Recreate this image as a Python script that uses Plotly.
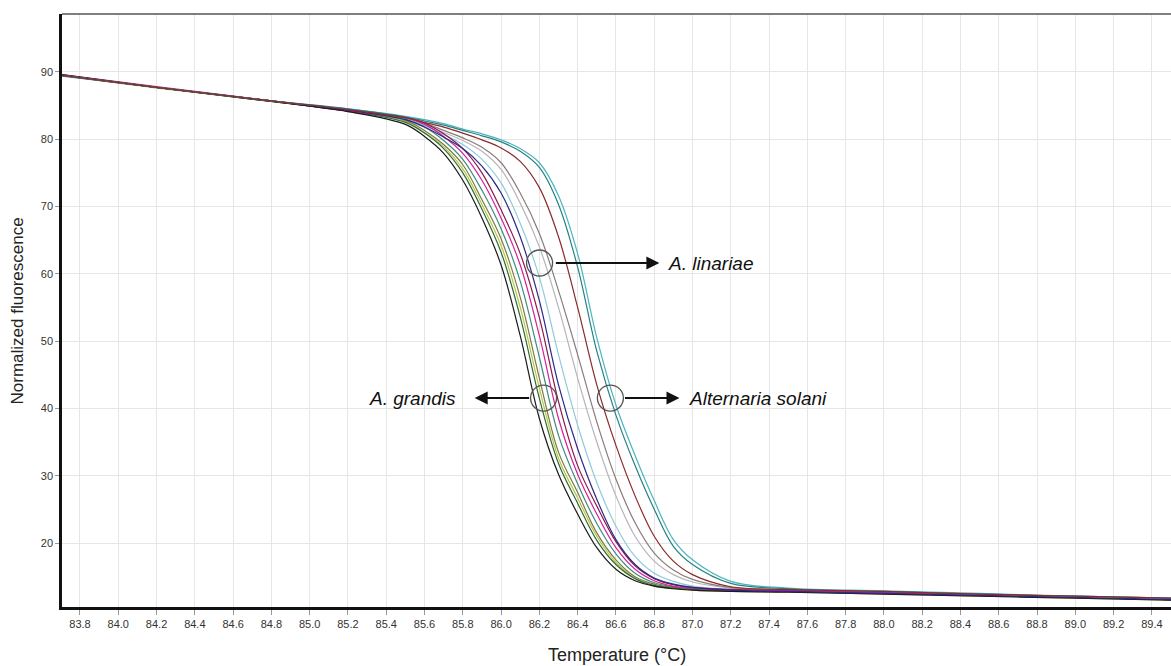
import plotly.graph_objects as go

# Temperature grid (°C)
temps = [83.7, 84.2, 84.8, 85.2, 85.5, 85.6, 85.7, 85.8, 85.9, 86.0, 86.1, 86.2, 86.3,
         86.4, 86.5, 86.6, 86.7, 86.8, 86.9, 87.0, 87.2, 87.5, 88.0, 88.5, 89.0, 89.5]

# A. grandis group
grandis_1 = [89.6, 87.7, 85.6, 84.1, 82.2, 80.4, 77.9, 73.9, 68.3, 61.3, 50.8, 38.5, 30.2,
             24.3, 19.3, 16.1, 14.4, 13.6, 13.2, 13.0, 12.8, 12.7, 12.4, 12.1, 11.8, 11.5]
grandis_2 = [89.5, 87.7, 85.6, 84.2, 82.5, 80.9, 78.6, 75.0, 69.6, 63.2, 53.6, 41.5, 31.8,
             25.9, 20.4, 16.8, 14.7, 13.7, 13.3, 13.1, 12.9, 12.8, 12.5, 12.2, 11.9, 11.6]
grandis_3 = [89.5, 87.7, 85.7, 84.2, 82.8, 81.3, 79.2, 76.2, 71.0, 65.2, 56.5, 44.5, 33.5,
             27.5, 21.5, 17.5, 15.0, 13.9, 13.4, 13.2, 12.9, 12.8, 12.5, 12.2, 11.9, 11.6]
grandis_4 = [89.4, 87.7, 85.7, 84.2, 83.0, 81.8, 79.8, 77.0, 72.4, 66.7, 58.9, 47.6, 36.0,
             28.8, 22.9, 18.4, 15.5, 14.1, 13.5, 13.25, 13.0, 12.8, 12.5, 12.2, 11.9, 11.6]
grandis_5 = [89.6, 87.8, 85.7, 84.2, 83.2, 82.2, 80.4, 77.9, 73.9, 68.3, 61.3, 50.8, 38.5,
             30.2, 24.3, 19.3, 16.1, 14.4, 13.6, 13.3, 13.0, 12.9, 12.6, 12.3, 12.0, 11.7]
grandis_6 = [89.5, 87.7, 85.7, 84.2, 83.3, 82.4, 80.8, 78.6, 75.0, 69.5, 63.0, 53.5, 41.0,
             31.5, 25.5, 20.2, 16.6, 14.7, 13.8, 13.4, 13.1, 12.9, 12.6, 12.3, 12.0, 11.7]
grandis_7 = [89.5, 87.6, 85.6, 84.1, 82.6, 81.0, 78.9, 75.6, 70.3, 64.2, 55.0, 43.0, 32.6,
             26.7, 21.0, 17.1, 14.8, 13.6, 13.2, 13.0, 12.8, 12.7, 12.4, 12.1, 11.8, 11.5]

# A. linariae group
linariae_1 = [89.5, 87.7, 85.7, 84.3, 82.9, 81.8, 80.3, 78.6, 76.0, 72.0, 65.5, 56.0, 43.5,
              34.0, 26.5, 20.5, 16.8, 14.8, 13.9, 13.4, 13.0, 12.8, 12.5, 12.2, 11.9, 11.6]
linariae_2 = [89.5, 87.7, 85.7, 84.3, 83.0, 82.0, 80.7, 79.2, 77.0, 73.5, 67.5, 59.5, 48.0,
              37.5, 29.0, 22.5, 18.0, 15.5, 14.3, 13.6, 13.1, 12.9, 12.6, 12.3, 12.0, 11.7]
linariae_3 = [89.5, 87.7, 85.7, 84.3, 83.1, 82.2, 81.0, 79.8, 78.2, 75.5, 70.5, 64.0, 55.0,
              44.5, 35.0, 27.0, 21.0, 17.3, 15.3, 14.2, 13.3, 13.0, 12.6, 12.3, 12.0, 11.7]
linariae_4 = [89.5, 87.7, 85.7, 84.3, 83.2, 82.4, 81.3, 80.2, 78.8, 76.5, 72.0, 66.0, 57.5,
              48.0, 38.0, 29.5, 23.0, 18.5, 16.0, 14.6, 13.4, 13.0, 12.7, 12.3, 12.0, 11.7]

# Alternaria solani group
solani_1 = [89.5, 87.7, 85.7, 84.4, 83.2, 82.5, 81.8, 80.9, 79.9, 78.7, 76.7, 72.8, 65.5,
            55.0, 43.5, 34.5, 27.0, 21.0, 17.3, 15.3, 13.5, 13.1, 12.8, 12.4, 12.1, 11.8]
solani_2 = [89.5, 87.7, 85.7, 84.5, 83.3, 82.7, 82.1, 81.3, 80.5, 79.6, 78.2, 75.8, 70.3,
            61.0, 48.5, 39.0, 31.5, 25.0, 19.5, 16.8, 14.0, 13.2, 12.8, 12.4, 12.1, 11.8]
solani_3 = [89.5, 87.7, 85.7, 84.5, 83.4, 82.9, 82.3, 81.5, 80.8, 79.9, 78.6, 76.5, 71.6,
            63.0, 50.5, 40.5, 33.0, 26.3, 20.5, 17.5, 14.3, 13.3, 12.9, 12.5, 12.1, 11.8]

series = [
    ("linariae_3", linariae_3, "#b4b4bc"),
    ("linariae_2", linariae_2, "#8fcbdb"),
    ("linariae_4", linariae_4, "#8a7c78"),
    ("grandis_7", grandis_7, "#b8c840"),
    ("grandis_4", grandis_4, "#3c8c7c"),
    ("grandis_3", grandis_3, "#7a7a48"),
    ("grandis_2", grandis_2, "#2e6b3a"),
    ("grandis_6", grandis_6, "#8b1a4a"),
    ("grandis_5", grandis_5, "#d4209a"),
    ("grandis_1", grandis_1, "#1a1a1a"),
    ("linariae_1", linariae_1, "#2a2a8a"),
    ("solani_3", solani_3, "#4ab5c0"),
    ("solani_2", solani_2, "#2a8080"),
    ("solani_1", solani_1, "#8b2a2a"),
]

fig = go.Figure()
for name, ys, col in series:
    fig.add_trace(go.Scatter(x=temps, y=ys, mode="lines", name=name,
                             line=dict(color=col, width=1.2, shape="spline", smoothing=1.0),
                             showlegend=False, hoverinfo="skip"))

FONT = "Liberation Sans, Arial, sans-serif"

fig.update_layout(
    width=1171, height=666,
    margin=dict(l=62, r=0, t=14, b=59),
    plot_bgcolor="white", paper_bgcolor="white",
    font=dict(family=FONT, color="#333333"),
    xaxis=dict(range=[83.706, 89.5], tick0=83.8, dtick=0.2, tickformat=".1f",
               showgrid=True, gridcolor="#e6e6e6", gridwidth=1,
               showline=True, linecolor="#111111", linewidth=3,
               ticks="outside", ticklen=5, tickcolor="#999999",
               tickfont=dict(size=11, color="#333333"), zeroline=False),
    yaxis=dict(range=[10.49, 98.6], tickvals=[20, 30, 40, 50, 60, 70, 80, 90],
               showgrid=True, gridcolor="#e6e6e6", gridwidth=1,
               showline=True, linecolor="#111111", linewidth=2.5,
               ticks="outside", ticklen=4, tickcolor="#999999",
               tickfont=dict(size=11, color="#333333"), zeroline=False),
)

# top frame line
fig.add_shape(type="line", xref="paper", yref="paper", x0=0, x1=1, y0=1, y1=1,
              line=dict(color="#555555", width=1.5))

# axis titles
fig.add_annotation(text="Temperature (°C)", xref="paper", yref="paper", x=0.5, y=-0.081,
                   xanchor="center", yanchor="middle", showarrow=False,
                   font=dict(size=18, family=FONT, color="#222222"))
fig.add_annotation(text="Normalized fluorescence", xref="paper", yref="paper",
                   x=-0.0397, y=0.5, xanchor="center", yanchor="middle", textangle=-90,
                   showarrow=False, font=dict(size=17, family=FONT, color="#222222"))

# circles
for cx, cy in [(86.201, 61.6), (86.222, 41.54), (86.571, 41.54)]:
    fig.add_shape(type="circle", xref="x", yref="y", xsizemode="pixel", ysizemode="pixel",
                  xanchor=cx, yanchor=cy, x0=-13, x1=13, y0=-13, y1=13,
                  line=dict(color="#555555", width=1.3))

# arrows
arrow = dict(showarrow=True, arrowhead=2, arrowsize=1.3, arrowwidth=2, arrowcolor="#111111",
             text="", xref="x", yref="y")
fig.add_annotation(x=86.827, y=61.6, ax=-105, ay=0, **arrow)
fig.add_annotation(x=85.862, y=41.54, ax=56, ay=0, **arrow)
fig.add_annotation(x=86.932, y=41.54, ax=-56, ay=0, **arrow)

lab = dict(showarrow=False, xref="x", yref="y", yanchor="middle",
           font=dict(size=19, family=FONT, color="#111111"))
fig.add_annotation(x=86.864, y=61.6, text="<i>A. linariae</i>", xanchor="left", **lab)
fig.add_annotation(x=85.773, y=41.54, text="<i>A. grandis</i>", xanchor="right", **lab)
fig.add_annotation(x=86.973, y=41.54, text="<i>Alternaria solani</i>", xanchor="left", **lab)

fig.write_html("out.html")
